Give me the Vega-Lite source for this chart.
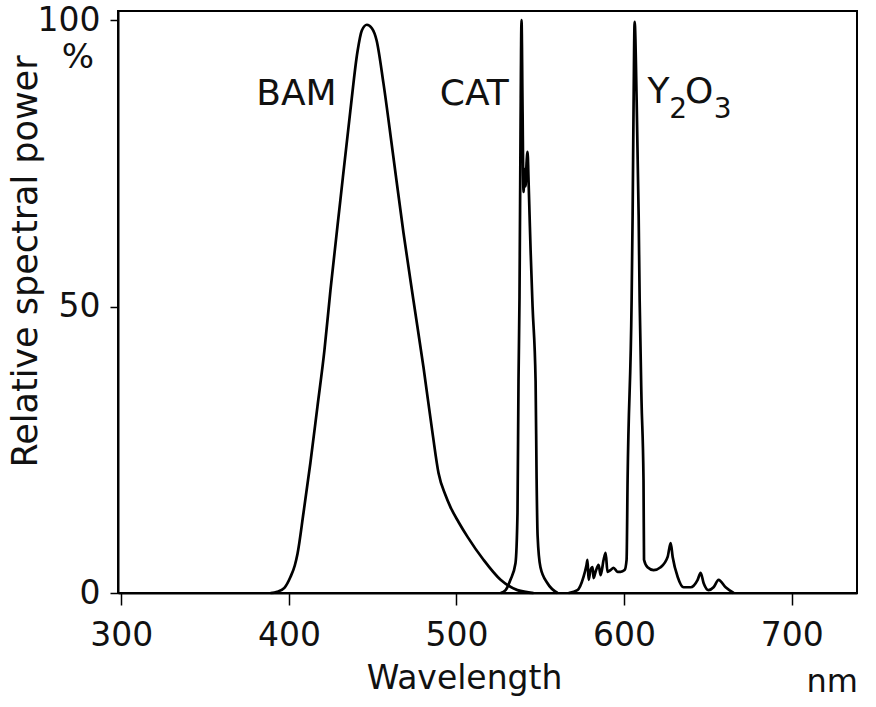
{
  "$schema": "https://vega.github.io/schema/vega-lite/v6.json",
  "width": 739,
  "height": 582,
  "autosize": {"type": "none"},
  "padding": {"left": 118, "top": 11, "right": 19, "bottom": 114},
  "background": "white",
  "config": {
    "view": {"stroke": "black", "strokeWidth": 2},
    "font": "DejaVu Sans",
    "axis": {
      "grid": false,
      "domainColor": "black",
      "domainWidth": 2,
      "tickColor": "black",
      "tickWidth": 1.5,
      "labelColor": "#111",
      "titleColor": "#111",
      "labelFont": "DejaVu Sans",
      "titleFont": "DejaVu Sans",
      "labelFontSize": 33,
      "titleFontSize": 35,
      "titleFontWeight": "normal"
    }
  },
  "datasets": {
    "spectra": [
      {"s": "BAM", "nm": 389, "p": 0},
      {"s": "BAM", "nm": 393, "p": 0.2},
      {"s": "BAM", "nm": 397.3, "p": 0.9},
      {"s": "BAM", "nm": 400.9, "p": 2.8},
      {"s": "BAM", "nm": 403.5, "p": 4.8},
      {"s": "BAM", "nm": 405.1, "p": 6.8},
      {"s": "BAM", "nm": 408.7, "p": 14},
      {"s": "BAM", "nm": 412.8, "p": 22.7},
      {"s": "BAM", "nm": 417, "p": 32.5},
      {"s": "BAM", "nm": 421.2, "p": 42.4},
      {"s": "BAM", "nm": 424.8, "p": 52.9},
      {"s": "BAM", "nm": 430.7, "p": 68.6},
      {"s": "BAM", "nm": 436.7, "p": 84.3},
      {"s": "BAM", "nm": 440.9, "p": 94.5},
      {"s": "BAM", "nm": 443.5, "p": 98.2},
      {"s": "BAM", "nm": 446.5, "p": 99.2},
      {"s": "BAM", "nm": 449.5, "p": 98.6},
      {"s": "BAM", "nm": 452.3, "p": 96.5},
      {"s": "BAM", "nm": 456.4, "p": 89},
      {"s": "BAM", "nm": 461.8, "p": 77.3},
      {"s": "BAM", "nm": 468.4, "p": 62.8},
      {"s": "BAM", "nm": 474.3, "p": 51.1},
      {"s": "BAM", "nm": 480.3, "p": 39.4},
      {"s": "BAM", "nm": 485.7, "p": 27.9},
      {"s": "BAM", "nm": 489.3, "p": 20.9},
      {"s": "BAM", "nm": 493.4, "p": 17.1},
      {"s": "BAM", "nm": 496.4, "p": 15},
      {"s": "BAM", "nm": 501.2, "p": 12.4},
      {"s": "BAM", "nm": 506.6, "p": 9.8},
      {"s": "BAM", "nm": 516.1, "p": 5.8},
      {"s": "BAM", "nm": 526.3, "p": 2.3},
      {"s": "BAM", "nm": 536.4, "p": 0.5},
      {"s": "BAM", "nm": 546, "p": 0},
      {"s": "CAT", "nm": 526.3, "p": 0},
      {"s": "CAT", "nm": 529.3, "p": 0.5},
      {"s": "CAT", "nm": 532.2, "p": 2.3},
      {"s": "CAT", "nm": 535.2, "p": 5.2},
      {"s": "CAT", "nm": 536.4, "p": 14},
      {"s": "CAT", "nm": 537, "p": 37},
      {"s": "CAT", "nm": 537.6, "p": 51.7},
      {"s": "CAT", "nm": 538.2, "p": 80},
      {"s": "CAT", "nm": 538.8, "p": 100},
      {"s": "CAT", "nm": 539.4, "p": 85},
      {"s": "CAT", "nm": 540, "p": 70},
      {"s": "CAT", "nm": 540.6, "p": 74},
      {"s": "CAT", "nm": 541.2, "p": 71},
      {"s": "CAT", "nm": 541.8, "p": 75},
      {"s": "CAT", "nm": 542.4, "p": 77},
      {"s": "CAT", "nm": 543, "p": 72},
      {"s": "CAT", "nm": 543.6, "p": 66},
      {"s": "CAT", "nm": 544.2, "p": 60},
      {"s": "CAT", "nm": 545.4, "p": 50},
      {"s": "CAT", "nm": 547.2, "p": 37},
      {"s": "CAT", "nm": 547.8, "p": 20},
      {"s": "CAT", "nm": 548.4, "p": 10},
      {"s": "CAT", "nm": 550.1, "p": 4.5},
      {"s": "CAT", "nm": 554.3, "p": 1.7},
      {"s": "CAT", "nm": 560.3, "p": 0},
      {"s": "Y2O3", "nm": 566.9, "p": 0},
      {"s": "Y2O3", "nm": 572.2, "p": 0.5},
      {"s": "Y2O3", "nm": 575.8, "p": 2.8},
      {"s": "Y2O3", "nm": 577.6, "p": 4.9},
      {"s": "Y2O3", "nm": 578.2, "p": 5.8},
      {"s": "Y2O3", "nm": 578.8, "p": 2.3},
      {"s": "Y2O3", "nm": 580, "p": 4},
      {"s": "Y2O3", "nm": 581.2, "p": 4.5},
      {"s": "Y2O3", "nm": 581.8, "p": 2.6},
      {"s": "Y2O3", "nm": 583, "p": 3.7},
      {"s": "Y2O3", "nm": 584.8, "p": 4.9},
      {"s": "Y2O3", "nm": 586, "p": 3.1},
      {"s": "Y2O3", "nm": 587.8, "p": 5.8},
      {"s": "Y2O3", "nm": 589, "p": 7},
      {"s": "Y2O3", "nm": 590.1, "p": 3.7},
      {"s": "Y2O3", "nm": 591.9, "p": 4},
      {"s": "Y2O3", "nm": 593.7, "p": 4.4},
      {"s": "Y2O3", "nm": 596.1, "p": 3.7},
      {"s": "Y2O3", "nm": 597.9, "p": 3.7},
      {"s": "Y2O3", "nm": 600.3, "p": 4},
      {"s": "Y2O3", "nm": 601.5, "p": 5.8},
      {"s": "Y2O3", "nm": 602.1, "p": 19.7},
      {"s": "Y2O3", "nm": 604.5, "p": 51.1},
      {"s": "Y2O3", "nm": 605.1, "p": 66},
      {"s": "Y2O3", "nm": 605.7, "p": 86},
      {"s": "Y2O3", "nm": 606.3, "p": 99.7},
      {"s": "Y2O3", "nm": 607.5, "p": 86},
      {"s": "Y2O3", "nm": 608.7, "p": 66},
      {"s": "Y2O3", "nm": 609.3, "p": 51.1},
      {"s": "Y2O3", "nm": 610.4, "p": 33.7},
      {"s": "Y2O3", "nm": 611.6, "p": 19.7},
      {"s": "Y2O3", "nm": 611.9, "p": 5.8},
      {"s": "Y2O3", "nm": 614, "p": 4.5},
      {"s": "Y2O3", "nm": 617.6, "p": 4},
      {"s": "Y2O3", "nm": 621.8, "p": 4.5},
      {"s": "Y2O3", "nm": 626, "p": 6.3},
      {"s": "Y2O3", "nm": 627.8, "p": 8.7},
      {"s": "Y2O3", "nm": 629, "p": 6.3},
      {"s": "Y2O3", "nm": 632, "p": 2.8},
      {"s": "Y2O3", "nm": 635.5, "p": 1},
      {"s": "Y2O3", "nm": 639.7, "p": 1},
      {"s": "Y2O3", "nm": 643.9, "p": 2.3},
      {"s": "Y2O3", "nm": 645.7, "p": 3.5},
      {"s": "Y2O3", "nm": 647.5, "p": 1.7},
      {"s": "Y2O3", "nm": 650.4, "p": 0.5},
      {"s": "Y2O3", "nm": 653.4, "p": 1},
      {"s": "Y2O3", "nm": 656.4, "p": 2.3},
      {"s": "Y2O3", "nm": 660.6, "p": 1},
      {"s": "Y2O3", "nm": 665.4, "p": 0}
    ],
    "labels": [
      {"label": "BAM", "nm": 380.5, "p": 85.2},
      {"label": "CAT", "nm": 490, "p": 85.2},
      {"label": "Y", "nm": 614.0, "p": 85.6},
      {"label": "O", "nm": 636.3, "p": 85.6}
    ],
    "subs": [
      {"label": "2", "nm": 626.9, "p": 83.0},
      {"label": "3", "nm": 653.5, "p": 83.0}
    ],
    "margin": [
      {"label": "%", "nm": 298, "p": 100},
      {"label": "nm", "nm": 739, "p": 0}
    ]
  },
  "layer": [
    {
      "data": {"name": "spectra"},
      "mark": {"type": "line", "color": "black", "strokeWidth": 2.7, "interpolate": "monotone"},
      "encoding": {
        "x": {
          "field": "nm", "type": "quantitative",
          "scale": {"domain": [298, 739], "nice": false, "zero": false},
          "axis": {
            "values": [300, 400, 500, 600, 700],
            "title": "Wavelength",
            "tickSize": 12,
            "labelPadding": 14,
            "titleX": 346,
            "titleY": 95,
            "titleBaseline": "alphabetic",
            "titleFontSize": 33
          }
        },
        "y": {
          "field": "p", "type": "quantitative",
          "scale": {"domain": [0, 101.6], "nice": false},
          "axis": {
            "values": [0, 50, 100],
            "title": "Relative spectral power",
            "tickSize": 8,
            "labelPadding": 10,
            "titleAngle": -90,
            "titleX": -82,
            "titleY": 250,
            "titleAlign": "center",
            "titleBaseline": "alphabetic"
          }
        },
        "detail": {"field": "s", "type": "nominal"}
      }
    },
    {
      "data": {"name": "labels"},
      "mark": {"type": "text", "fontSize": 36, "align": "left", "baseline": "alphabetic", "color": "#111", "font": "DejaVu Sans"},
      "encoding": {
        "x": {"field": "nm", "type": "quantitative"},
        "y": {"field": "p", "type": "quantitative"},
        "text": {"field": "label"}
      }
    },
    {
      "data": {"name": "subs"},
      "mark": {"type": "text", "fontSize": 28, "align": "left", "baseline": "alphabetic", "color": "#111", "font": "DejaVu Sans"},
      "encoding": {
        "x": {"field": "nm", "type": "quantitative"},
        "y": {"field": "p", "type": "quantitative"},
        "text": {"field": "label"}
      }
    },
    {
      "data": {"name": "margin"},
      "transform": [{"filter": "datum.label == '%'"}],
      "mark": {"type": "text", "fontSize": 34, "align": "center", "baseline": "middle", "dx": -40, "dy": 38, "clip": false, "color": "#111", "font": "DejaVu Sans"},
      "encoding": {
        "x": {"field": "nm", "type": "quantitative"},
        "y": {"field": "p", "type": "quantitative"},
        "text": {"field": "label"}
      }
    },
    {
      "data": {"name": "margin"},
      "transform": [{"filter": "datum.label == 'nm'"}],
      "mark": {"type": "text", "fontSize": 32, "align": "right", "baseline": "alphabetic", "dx": 1, "dy": 99, "clip": false, "color": "#111", "font": "DejaVu Sans"},
      "encoding": {
        "x": {"field": "nm", "type": "quantitative"},
        "y": {"field": "p", "type": "quantitative"},
        "text": {"field": "label"}
      }
    }
  ]
}
